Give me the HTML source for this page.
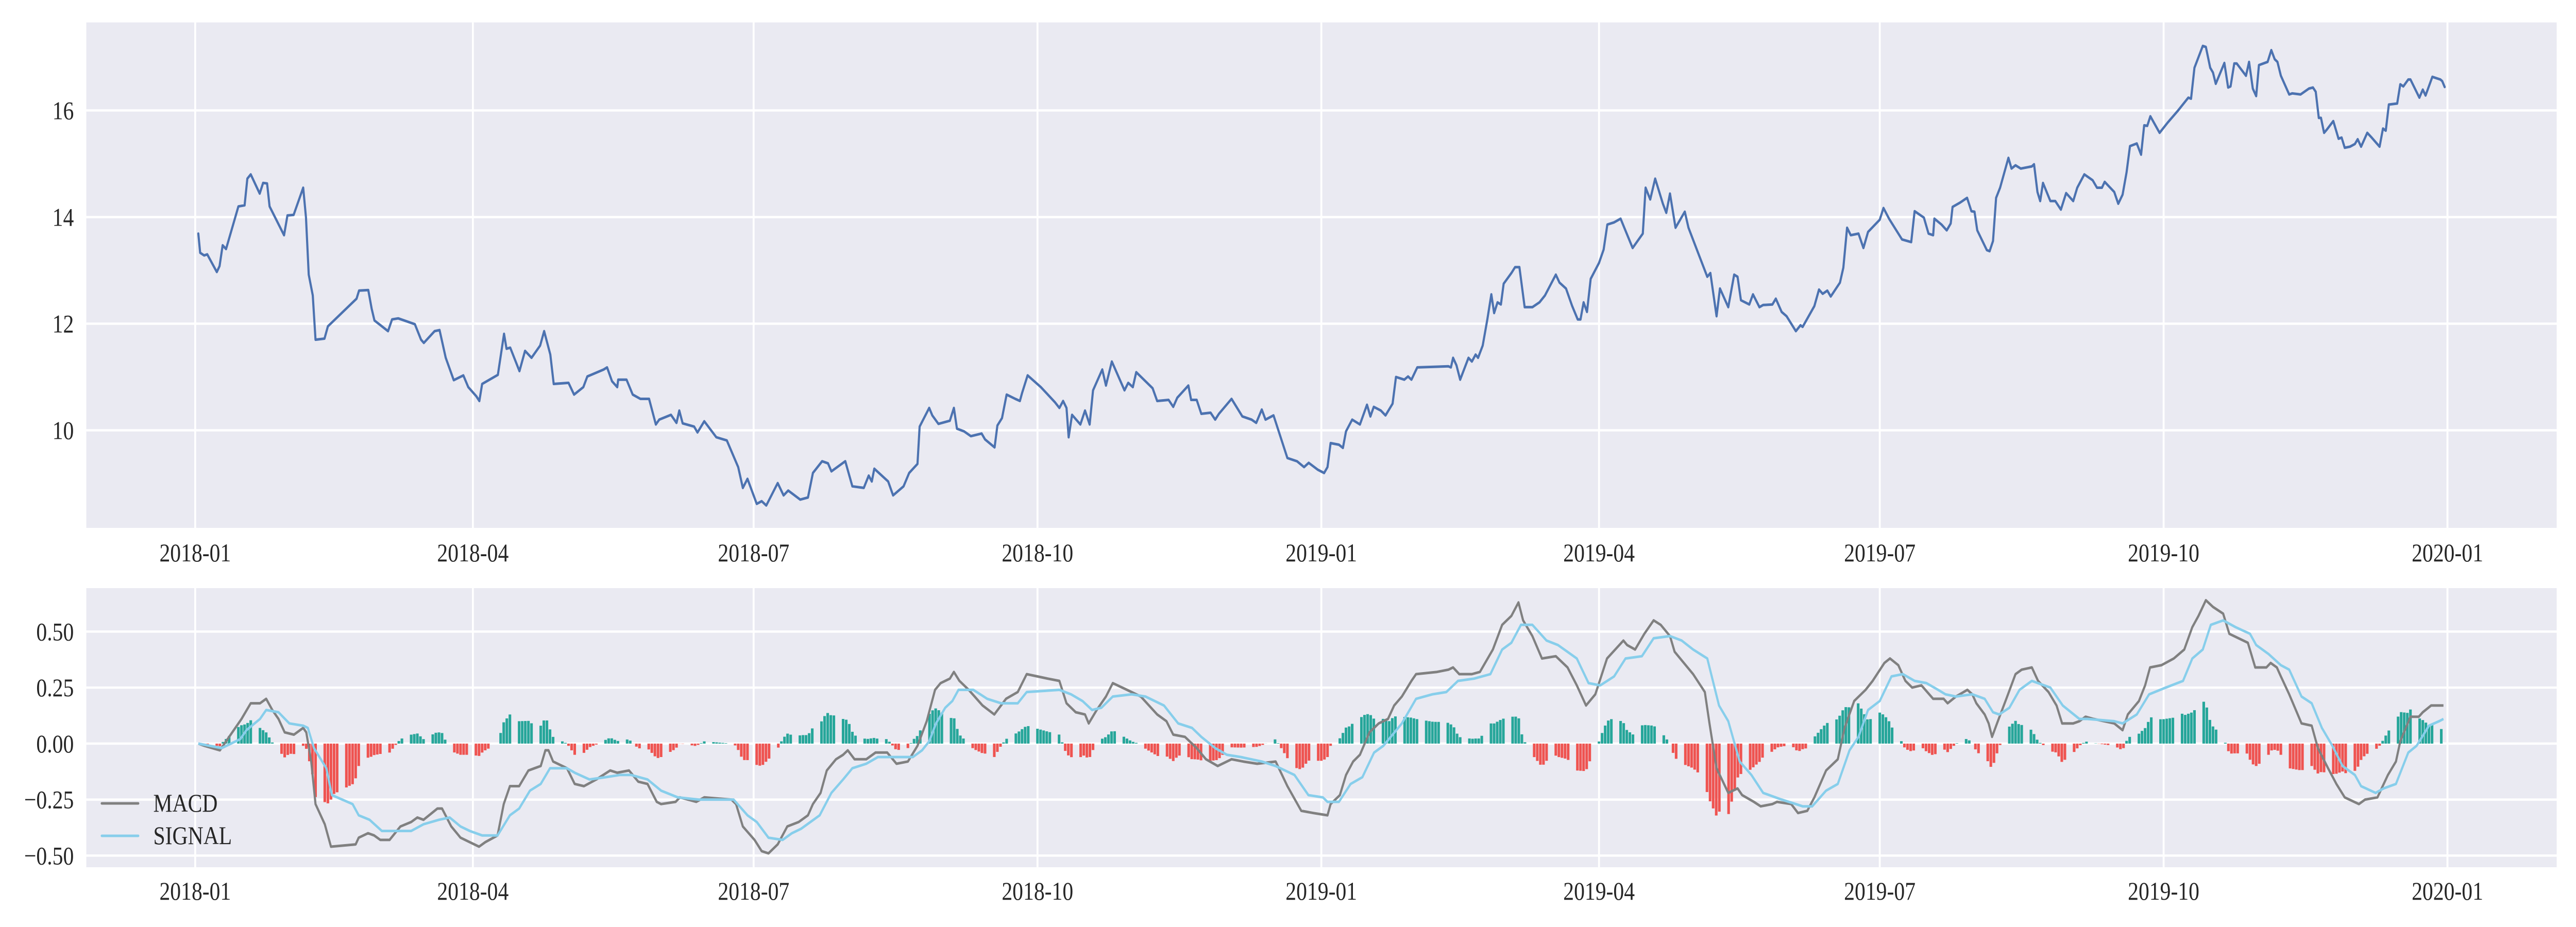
<!DOCTYPE html>
<html><head><meta charset="utf-8"><style>
html,body{margin:0;padding:0;background:#fff;overflow:hidden;width:100vw;height:100vh;}
svg{display:block;position:absolute;left:0;top:0;width:100vw;height:100vh;font-family:"Liberation Serif","DejaVu Serif",serif;}
</style></head><body>
<svg id="chart" viewBox="0 0 6000 1800" preserveAspectRatio="none" xmlns="http://www.w3.org/2000/svg">
<rect x="201" y="43.6" width="5754" height="981.4" fill="#EAEAF2"/>
<rect x="201" y="1142" width="5754" height="542" fill="#EAEAF2"/>
<g id="grid"></g>
<g id="hist"></g>
<g id="lines"></g>
<g id="labels" fill="#262626" font-size="50"></g>
<g>
<line x1="237" y1="1560" x2="322" y2="1560" stroke="#808080" stroke-width="5" stroke-linecap="round"/>
<text x="357" y="1576" font-size="50" fill="#262626">MACD</text>
<line x1="237" y1="1623" x2="322" y2="1623" stroke="#87CEEB" stroke-width="5" stroke-linecap="round"/>
<text x="357" y="1639" font-size="50" fill="#262626">SIGNAL</text>
</g>
</svg>
<script>
// x categories: days since 2018-01-01
const xTickDays = [0, 90, 181, 273, 365, 455, 546, 638, 730];
const xTickLabels = ["2018-01","2018-04","2018-07","2018-10","2019-01","2019-04","2019-07","2019-10","2020-01"];
const priceTicks = [10, 12, 14, 16];
const macdTicks = [-0.5, -0.25, 0, 0.25, 0.5];
const macdTickLabels = ["\u22120.50","\u22120.25","0.00","0.25","0.50"];

const pricePoints = [[1,13.69],[1.6,13.33],[2.9,13.28],[3.9,13.3],[7,12.97],[7.9,13.08],[8.9,13.47],[10,13.4],[14,14.2],[16,14.22],[16.9,14.72],[18,14.8],[20.9,14.44],[22,14.64],[23.3,14.63],[24.1,14.2],[28.8,13.66],[29.9,14.03],[31.9,14.04],[35,14.55],[35.9,13.99],[36.8,12.92],[38.1,12.53],[39,11.7],[41.9,11.72],[43,11.95],[52.3,12.47],[53.1,12.62],[56.1,12.63],[57.2,12.28],[58.1,12.06],[62.5,11.86],[63.8,12.08],[65.8,12.1],[71.2,11.99],[73.2,11.7],[74.1,11.64],[77.6,11.86],[79.2,11.88],[81.2,11.36],[83.8,10.94],[86.9,11.03],[88.5,10.81],[91.1,10.64],[92.1,10.55],[93,10.87],[98.1,11.04],[100.1,11.81],[100.9,11.53],[102.1,11.55],[105.1,11.11],[106.9,11.49],[109,11.36],[111.8,11.59],[113.1,11.86],[115.1,11.42],[116.2,10.87],[121,10.89],[122.8,10.67],[125.8,10.81],[127.1,11.01],[132.4,11.14],[133.5,11.18],[135.1,10.92],[136.8,10.81],[137.1,10.95],[139.8,10.95],[141.8,10.67],[144.3,10.59],[147.1,10.59],[149.3,10.11],[150.4,10.2],[154.2,10.29],[156,10.14],[156.9,10.37],[158,10.13],[161.7,10.07],[162.8,9.96],[165,10.17],[168.9,9.87],[172.3,9.81],[176,9.31],[177.5,8.92],[179,9.09],[182,8.62],[183.6,8.67],[185.1,8.59],[188.8,9.01],[190.7,8.78],[192.2,8.87],[196.1,8.7],[198.6,8.74],[200.2,9.2],[203.2,9.42],[205.1,9.38],[206.2,9.23],[210.7,9.42],[213,8.95],[216.7,8.92],[218.3,9.15],[219.3,9.04],[220.1,9.28],[224.6,9.04],[226.2,8.78],[229.6,8.95],[231.4,9.2],[234.1,9.37],[234.8,10.07],[237.9,10.42],[238.9,10.28],[240.9,10.12],[244.6,10.18],[245.9,10.42],[246.9,10.03],[249.2,9.98],[251.4,9.89],[254.9,9.94],[256,9.83],[259.1,9.68],[260,10.09],[261.5,10.23],[263,10.67],[265.8,10.59],[267.3,10.55],[268,10.7],[269.8,11.03],[274.1,10.81],[278.6,10.53],[280.1,10.42],[281.3,10.55],[282.4,10.42],[283.1,9.87],[284.2,10.29],[286.9,10.11],[288.4,10.37],[289.9,10.11],[291,10.75],[294,11.14],[295.2,10.84],[297.1,11.29],[301.2,10.75],[302.4,10.89],[303.9,10.81],[305,11.09],[310.3,10.79],[311.8,10.55],[315.5,10.57],[317,10.44],[318.3,10.61],[321.9,10.84],[322.8,10.57],[324.6,10.57],[326.1,10.31],[329.1,10.33],[330.6,10.2],[331.8,10.31],[335.9,10.59],[339.4,10.26],[342.4,10.2],[343.9,10.14],[345.7,10.39],[346.9,10.2],[349.5,10.28],[354,9.48],[357.1,9.42],[359.4,9.31],[360.9,9.39],[363.9,9.26],[365.9,9.2],[367,9.31],[368,9.76],[370.7,9.73],[372,9.67],[373,9.98],[375,10.2],[377.5,10.11],[379.8,10.48],[380.9,10.26],[382,10.44],[384.3,10.37],[385.8,10.28],[388.1,10.5],[389.2,11.0],[391.9,10.95],[393.1,11.01],[394.2,10.95],[396.1,11.18],[406.2,11.2],[407,11.18],[407.7,11.36],[408.8,11.22],[410,10.95],[412.7,11.36],[413.8,11.29],[415,11.42],[415.8,11.36],[417.3,11.59],[418.8,12.08],[420.1,12.55],[421,12.2],[422.1,12.4],[423.2,12.36],[424.1,12.75],[426.6,12.95],[427.8,13.06],[429.2,13.06],[430.9,12.31],[433.4,12.31],[435.7,12.4],[437.5,12.53],[441,12.92],[442.2,12.77],[444.3,12.66],[446.3,12.33],[448.1,12.08],[449,12.08],[450,12.4],[451.1,12.22],[452.3,12.84],[455,13.14],[456.5,13.39],[457.7,13.86],[459.9,13.9],[462,13.97],[463.2,13.8],[465.9,13.42],[469.2,13.69],[470.1,14.55],[471.6,14.33],[473.2,14.72],[475.7,14.25],[476.8,14.08],[478,14.44],[479.8,13.8],[482.8,14.1],[484,13.8],[487.1,13.33],[490.1,12.88],[491.1,12.95],[493.1,12.14],[494.2,12.66],[496.9,12.31],[498.8,12.92],[499.9,12.88],[501,12.44],[503.7,12.36],[504.9,12.55],[507,12.31],[508.2,12.35],[511.2,12.36],[512.3,12.47],[514.2,12.22],[515.8,12.14],[518.8,11.86],[520.3,11.97],[521,11.94],[524.8,12.33],[526.3,12.64],[527.5,12.56],[529,12.62],[530.1,12.51],[533.1,12.77],[534.2,13.05],[535.4,13.8],[536.6,13.66],[539.1,13.69],[540.7,13.42],[542.2,13.72],[546,13.95],[547.2,14.17],[549,13.97],[553.2,13.58],[556.2,13.53],[557.3,14.11],[560.3,13.99],[561.8,13.69],[563.3,13.66],[563.7,13.97],[566,13.86],[567.7,13.75],[569,13.88],[569.6,14.19],[572,14.27],[574.3,14.36],[575.7,14.11],[576.7,14.1],[577.6,13.75],[580.7,13.38],[581.6,13.36],[582.7,13.55],[583.7,14.36],[585,14.55],[587.7,15.11],[588.7,14.91],[590,14.97],[591.7,14.91],[595.3,14.95],[596,14.99],[597.1,14.47],[598,14.3],[598.9,14.64],[601.3,14.3],[602.9,14.3],[604.7,14.14],[606.4,14.45],[608.7,14.3],[610,14.55],[612.3,14.8],[615,14.69],[616.4,14.55],[618,14.55],[618.9,14.66],[622,14.47],[623.3,14.25],[624.7,14.42],[626,14.84],[627.1,15.33],[629.3,15.38],[630.7,15.17],[631.7,15.72],[632.7,15.71],[633.7,15.89],[636.7,15.58],[639.3,15.77],[642.7,16.0],[646,16.24],[646.9,16.22],[648,16.8],[650.7,17.21],[651.7,17.19],[653.1,16.8],[654,16.71],[654.9,16.5],[657.7,16.89],[658.9,16.43],[659.7,16.45],[660.9,16.88],[661.7,16.88],[664.7,16.65],[665.7,16.91],[666.9,16.41],[668,16.27],[668.9,16.85],[671.7,16.91],[672.9,17.13],[674,16.96],[674.9,16.91],[676,16.65],[678.7,16.3],[679.7,16.32],[682.4,16.3],[685.1,16.41],[686.4,16.43],[687.3,16.35],[688.3,15.86],[689,15.86],[690,15.58],[690.9,15.64],[693,15.8],[694.7,15.47],[695.7,15.49],[696.7,15.3],[698.4,15.32],[700,15.37],[700.9,15.46],[702,15.32],[704,15.58],[705.3,15.5],[708,15.32],[709.1,15.66],[710,15.62],[711,16.11],[713.7,16.13],[714.7,16.49],[715.7,16.45],[717.3,16.58],[718,16.58],[720.9,16.24],[722,16.39],[722.9,16.28],[725.1,16.63],[727.7,16.58],[728.3,16.55],[729.1,16.44]];

const macdPoints = [[1,0],[3,-0.01],[8,-0.03],[11,0.03],[15,0.11],[18,0.18],[21,0.18],[23,0.2],[25,0.15],[27,0.11],[29,0.05],[32,0.04],[35,0.07],[36,0.05],[37.6,-0.08],[39,-0.27],[42,-0.36],[44,-0.46],[52,-0.45],[53,-0.42],[56,-0.4],[58,-0.41],[60,-0.43],[63,-0.43],[66.5,-0.37],[70,-0.35],[72,-0.33],[74,-0.34],[78.5,-0.29],[80,-0.29],[83,-0.37],[86,-0.42],[89,-0.44],[92,-0.46],[94,-0.44],[98,-0.41],[100,-0.27],[102,-0.19],[105,-0.19],[108,-0.12],[110,-0.11],[112,-0.1],[113.5,-0.03],[114.5,-0.03],[116,-0.08],[120.5,-0.11],[123,-0.18],[126,-0.19],[130,-0.16],[134.5,-0.12],[136.8,-0.13],[140.6,-0.12],[143.6,-0.17],[146.6,-0.18],[149.6,-0.26],[151,-0.27],[155.7,-0.26],[157.1,-0.24],[162.4,-0.26],[165,-0.24],[173.8,-0.25],[175.3,-0.27],[177.5,-0.37],[181.3,-0.43],[183.6,-0.48],[185.8,-0.49],[188.8,-0.45],[191.9,-0.37],[195.6,-0.35],[198.6,-0.32],[200.2,-0.27],[202.7,-0.22],[204.7,-0.12],[207.7,-0.07],[210,-0.05],[211.5,-0.03],[213.7,-0.07],[217.5,-0.07],[220.5,-0.04],[224.3,-0.04],[227.3,-0.09],[231,-0.08],[234.1,-0.01],[237.1,0.1],[239.8,0.24],[241.6,0.27],[244.6,0.29],[245.9,0.32],[247.7,0.28],[250.7,0.24],[255.2,0.17],[259,0.13],[262.8,0.2],[266.6,0.23],[269.5,0.31],[276.3,0.29],[280.1,0.28],[282.4,0.18],[285.4,0.14],[288.4,0.13],[289.6,0.09],[292.2,0.15],[295.2,0.21],[297.4,0.27],[302,0.24],[306.5,0.21],[311.8,0.13],[314.8,0.1],[317,0.04],[320.8,0.03],[324.6,-0.02],[327.6,-0.07],[331.4,-0.1],[335.9,-0.07],[339.7,-0.08],[344.2,-0.09],[350.2,-0.08],[354,-0.19],[358.5,-0.3],[362.4,-0.31],[367,-0.32],[368,-0.27],[371,-0.23],[373,-0.14],[375.3,-0.08],[377.5,-0.05],[380.6,0.05],[383.6,0.09],[386.6,0.11],[388.6,0.17],[391.1,0.21],[394.2,0.28],[395.7,0.31],[402.5,0.32],[406.2,0.33],[407.7,0.34],[409.7,0.31],[413.8,0.31],[416.4,0.32],[420.6,0.42],[423.6,0.53],[426.6,0.57],[428.9,0.63],[430.4,0.55],[433.4,0.48],[436.5,0.38],[441,0.39],[444.8,0.34],[447.8,0.26],[450.8,0.17],[453.8,0.22],[457.6,0.38],[462.9,0.46],[464.1,0.44],[466.7,0.42],[469.7,0.49],[472.7,0.55],[475,0.53],[478,0.48],[479.5,0.41],[482.5,0.36],[485.5,0.31],[489.3,0.23],[490.8,0.09],[493.1,-0.11],[496.9,-0.22],[499.9,-0.2],[501.4,-0.23],[505.2,-0.26],[507.4,-0.28],[511.2,-0.27],[512.7,-0.26],[517.3,-0.27],[519.5,-0.31],[522.5,-0.3],[524.8,-0.24],[528.6,-0.12],[532.4,-0.07],[534.6,0.07],[537.7,0.19],[541.4,0.24],[543.7,0.28],[547.5,0.36],[549.3,0.38],[552,0.35],[554.3,0.28],[556.5,0.25],[559.5,0.26],[563.3,0.2],[566.7,0.2],[568,0.18],[570.7,0.21],[574.4,0.24],[576,0.22],[577.3,0.18],[580,0.13],[581.3,0.09],[582.4,0.03],[584,0.09],[587.3,0.21],[590,0.31],[592,0.33],[595.3,0.34],[597.3,0.28],[600.7,0.23],[603.3,0.17],[605.1,0.09],[608.7,0.09],[610.7,0.1],[612.7,0.12],[615.3,0.11],[622,0.09],[624.7,0.06],[626.4,0.13],[630,0.19],[632,0.26],[633.6,0.34],[637.3,0.35],[641.3,0.38],[644.7,0.42],[647.3,0.52],[649.3,0.57],[651.7,0.64],[654,0.61],[657.3,0.58],[659.3,0.49],[665.3,0.45],[667.7,0.34],[671.3,0.34],[672.7,0.36],[674.7,0.34],[676,0.3],[678.7,0.22],[682.7,0.09],[686,0.08],[688,-0.02],[691.3,-0.11],[694,-0.18],[696.7,-0.24],[701.3,-0.27],[703.3,-0.25],[707.3,-0.24],[710.7,-0.14],[713.3,-0.08],[714.7,0.01],[718,0.12],[720.7,0.12],[722,0.14],[724.7,0.17],[728,0.17],[728.7,0.17]];

const signalPoints = [[1,0],[8.6,-0.02],[14.6,0.02],[16.6,0.06],[21,0.11],[23,0.15],[27,0.14],[30.5,0.09],[35,0.08],[36.5,0.07],[38.5,-0.02],[42.5,-0.11],[44.3,-0.23],[51,-0.27],[53,-0.32],[56.5,-0.34],[60.5,-0.39],[64.5,-0.39],[70,-0.39],[74,-0.36],[79,-0.34],[82.5,-0.33],[86,-0.37],[89,-0.39],[93,-0.41],[98,-0.41],[102,-0.32],[105,-0.29],[108.5,-0.21],[112,-0.18],[115,-0.11],[120.5,-0.11],[123,-0.13],[127.8,-0.16],[133,-0.15],[137.6,-0.14],[141.3,-0.14],[146.6,-0.16],[151,-0.21],[156.4,-0.24],[163.2,-0.25],[174.5,-0.25],[179,-0.32],[182,-0.35],[185.8,-0.42],[190.4,-0.43],[193.4,-0.4],[196.4,-0.38],[202.4,-0.32],[206.2,-0.22],[210,-0.16],[213,-0.11],[217.5,-0.09],[221.3,-0.06],[226.6,-0.06],[232.6,-0.06],[235.6,-0.03],[237.9,0.01],[240.1,0.09],[243.1,0.16],[245.4,0.19],[247.4,0.24],[252.2,0.24],[256.7,0.2],[261.2,0.18],[266.6,0.18],[269.5,0.23],[280.1,0.24],[283.9,0.22],[287.6,0.19],[290.7,0.15],[293.7,0.16],[297.4,0.21],[303.5,0.22],[308,0.21],[314,0.17],[318.6,0.09],[323.1,0.07],[326.1,0.03],[330.6,-0.02],[334.4,-0.05],[338.9,-0.06],[345.7,-0.08],[350.2,-0.1],[356.3,-0.14],[360.8,-0.23],[365.5,-0.24],[367,-0.26],[370.7,-0.26],[374.5,-0.18],[378.3,-0.15],[382.1,-0.04],[385.1,-0.01],[388.1,0.04],[391.1,0.09],[395.7,0.2],[401,0.22],[405.5,0.23],[409.3,0.28],[414.5,0.29],[419.8,0.31],[423.6,0.42],[426.6,0.45],[429.7,0.53],[433.4,0.53],[438,0.46],[441.7,0.44],[447.8,0.38],[451.6,0.27],[455.4,0.26],[459.9,0.3],[463.6,0.38],[468.9,0.39],[472.7,0.47],[478,0.48],[481.8,0.46],[485.5,0.42],[490.1,0.38],[493.9,0.17],[496.9,0.1],[500.6,-0.08],[504.4,-0.14],[508.2,-0.22],[514.2,-0.25],[518.8,-0.27],[521,-0.28],[524.1,-0.28],[528.6,-0.21],[532.4,-0.18],[536.2,-0.03],[539.1,0.03],[542.2,0.15],[546,0.19],[549.8,0.3],[553.5,0.31],[557.3,0.28],[561.1,0.27],[564.9,0.24],[567.3,0.22],[570.7,0.21],[576,0.22],[580,0.2],[582.7,0.14],[584.7,0.13],[588,0.16],[591.3,0.24],[595.3,0.28],[601.3,0.25],[605.3,0.17],[608,0.14],[610.7,0.11],[613.3,0.11],[622,0.1],[624.7,0.09],[629.3,0.13],[633.3,0.22],[638.7,0.25],[644.3,0.28],[647.3,0.38],[650.7,0.42],[653.3,0.53],[657.3,0.55],[661.3,0.52],[666,0.49],[668,0.44],[672,0.4],[676,0.35],[678.7,0.33],[682.7,0.21],[686,0.18],[689.3,0.07],[692.7,-0.01],[696,-0.1],[700,-0.14],[702,-0.19],[706.7,-0.22],[709.3,-0.2],[713.3,-0.18],[717.3,-0.04],[720,-0.01],[724,0.08],[727.3,0.1],[728.7,0.11]];

const NS = "http://www.w3.org/2000/svg";
const X0 = 201, X1 = 5955;
const xMin = -35.3, xMax = 765.4;
function xs(d){ return X0 + (d - xMin) / (xMax - xMin) * (X1 - X0); }
const P_TOP = 43.6, P_BOT = 1025, pMin = 8.17, pMax = 17.65;
function yp(v){ return P_BOT - (v - pMin) / (pMax - pMin) * (P_BOT - P_TOP); }
const M_TOP = 1142, M_BOT = 1684, mMin = -0.552, mMax = 0.694;
function ym(v){ return M_BOT - (v - mMin) / (mMax - mMin) * (M_BOT - M_TOP); }

function mk(tag, attrs, parent){
  const e = document.createElementNS(NS, tag);
  for (const k in attrs) e.setAttribute(k, attrs[k]);
  parent.appendChild(e);
  return e;
}
const grid = document.getElementById('grid');
const labels = document.getElementById('labels');
const lines = document.getElementById('lines');
const hist = document.getElementById('hist');

xTickDays.forEach((d, i) => {
  const x = xs(d);
  const g1 = mk('line', {x1:x, x2:x, y1:P_TOP, y2:P_BOT, stroke:'#fff', 'stroke-width':4.5}, grid);
  
  
  const g2 = mk('line', {x1:x, x2:x, y1:M_TOP, y2:M_BOT, stroke:'#fff', 'stroke-width':4.5}, grid);
  
  
  const t1 = mk('text', {x:x, y:1090, 'text-anchor':'middle'}, labels);
  t1.textContent = xTickLabels[i];
  
  
  const t2 = mk('text', {x:x, y:1747, 'text-anchor':'middle'}, labels);
  t2.textContent = xTickLabels[i];
  
  
});
priceTicks.forEach(v => {
  const y = yp(v);
  const g = mk('line', {x1:X0, x2:X1, y1:y, y2:y, stroke:'#fff', 'stroke-width':4.5}, grid);
  
  
  const t = mk('text', {x:172, y:y + 17, 'text-anchor':'end'}, labels);
  t.textContent = String(v);
  
  
});
macdTicks.forEach((v, i) => {
  const y = ym(v);
  const g = mk('line', {x1:X0, x2:X1, y1:y, y2:y, stroke:'#fff', 'stroke-width':4.5}, grid);
  
  
  const t = mk('text', {x:172, y:y + 17, 'text-anchor':'end'}, labels);
  t.textContent = macdTickLabels[i];
  
  
});

function interp(pts, d){
  if (d <= pts[0][0]) return pts[0][1];
  for (let i = 1; i < pts.length; i++){
    if (d <= pts[i][0]){
      const a = pts[i-1], b = pts[i];
      return a[1] + (b[1]-a[1]) * (d - a[0]) / (b[0] - a[0]);
    }
  }
  return pts[pts.length-1][1];
}
// histogram bars: one per trading day, value = MACD - SIGNAL
const startDay = Math.max(macdPoints[0][0], signalPoints[0][0]);
const endDay = Math.min(macdPoints[macdPoints.length-1][0], signalPoints[signalPoints.length-1][0]);
const barW = 6.1;
for (let d = Math.ceil(startDay); d <= endDay; d++){
  const wd = d % 7;
  if (wd === 5 || wd === 6) continue;
  const h = interp(macdPoints, d) - interp(signalPoints, d);
  const y0 = ym(0), y1 = ym(h);
  const r = mk('rect', {x:xs(d) - barW/2, y:Math.min(y0,y1), width:barW, height:Math.abs(y1-y0), fill: h >= 0 ? '#26A69A' : '#EF5350'}, hist);
  
  
}

function path(pts, yf){
  return pts.map((p, i) => (i ? 'L' : 'M') + xs(p[0]).toFixed(1) + ',' + yf(p[1]).toFixed(1)).join('');
}
const pl = mk('path', {d:path(pricePoints, yp), fill:'none', stroke:'#4C72B0', 'stroke-width':5, 'stroke-linejoin':'round', 'stroke-linecap':'round'}, lines);


const ml = mk('path', {d:path(macdPoints, ym), fill:'none', stroke:'#808080', 'stroke-width':5, 'stroke-linejoin':'round'}, lines);


const sl = mk('path', {d:path(signalPoints, ym), fill:'none', stroke:'#87CEEB', 'stroke-width':5, 'stroke-linejoin':'round'}, lines);


</script>
</body></html>
